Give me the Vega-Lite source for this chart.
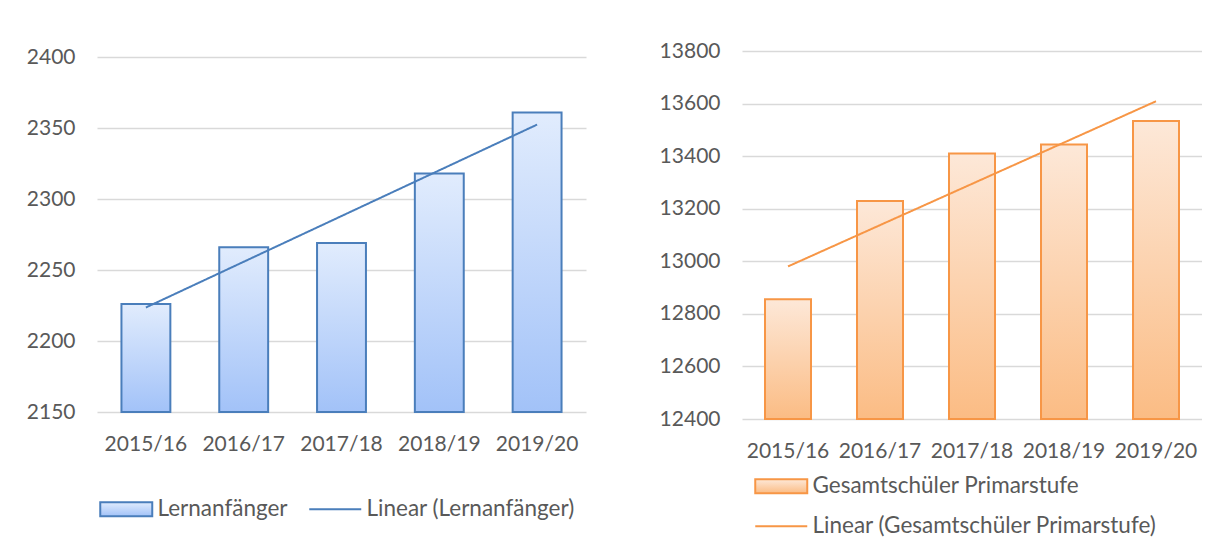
{
  "$schema": "https://vega.github.io/schema/vega-lite/v6.json",
  "background": "white",
  "padding": {"left": 26, "top": 40, "right": 0, "bottom": 0},
  "spacing": 73,
  "datasets": {
    "left": [
      {"year": "2015/16", "i": 1, "value": 2226},
      {"year": "2016/17", "i": 2, "value": 2266},
      {"year": "2017/18", "i": 3, "value": 2269},
      {"year": "2018/19", "i": 4, "value": 2318},
      {"year": "2019/20", "i": 5, "value": 2361}
    ],
    "right": [
      {"year": "2015/16", "i": 1, "value": 12856},
      {"year": "2016/17", "i": 2, "value": 13229},
      {"year": "2017/18", "i": 3, "value": 13410},
      {"year": "2018/19", "i": 4, "value": 13444},
      {"year": "2019/20", "i": 5, "value": 13534}
    ]
  },
  "resolve": {"scale": {"stroke": "independent", "strokeDash": "independent"}},
  "hconcat": [
    {
      "width": 489,
      "height": 367,
      "data": {"name": "left"},
      "encoding": {
        "x": {"field": "year", "type": "nominal", "scale": {"paddingInner": 0.5, "paddingOuter": 0.25}, "axis": {"title": null, "labelPadding": 15}}
      },
      "layer": [
        {
          "mark": {"type": "bar", "strokeWidth": 2, "fill": {"gradient": "linear", "x1": 0, "y1": 0, "x2": 0, "y2": 1, "stops": [{"offset": 0, "color": "#e1ecfd"}, {"offset": 1, "color": "#a2c2f8"}]}},
          "encoding": {
            "y": {"field": "value", "type": "quantitative", "scale": {"domain": [2150, 2400], "nice": false, "zero": false, "padding": 6}, "axis": {"title": null, "format": "d", "values": [2150, 2200, 2250, 2300, 2350, 2400]}},
            "y2": {"datum": 2150},
            "stroke": {
              "datum": "Lernanfänger", "type": "nominal",
              "scale": {"domain": ["Lernanfänger"], "range": ["#4a7ebb"]},
              "legend": {
                "title": null, "orient": "none", "legendX": 18, "legendY": 447, "direction": "horizontal",
                "symbolType": "M-3.714,-1H3.714V1H-3.714Z", "symbolSize": 196, "symbolStrokeWidth": 2, "labelOffset": 20, "padding": 0, "labelLimit": 600,
                "encode": {"symbols": {"update": {
                  "fill": {"value": {"gradient": "linear", "x1": 0, "y1": 0, "x2": 0, "y2": 1, "stops": [{"offset": 0, "color": "#e1ecfd"}, {"offset": 1, "color": "#a2c2f8"}]}},
                  "opacity": {"value": 1}
                }}}
              }
            }
          }
        },
        {
          "transform": [
            {"regression": "value", "on": "i"},
            {"lookup": "i", "from": {"data": {"name": "left"}, "key": "i", "fields": ["year"]}}
          ],
          "mark": {"type": "line", "strokeWidth": 2, "stroke": "#4a7ebb"},
          "encoding": {
            "y": {"field": "value", "type": "quantitative"},
            "strokeDash": {
              "datum": "Linear (Lernanfänger)", "type": "nominal",
              "scale": {"domain": ["Linear (Lernanfänger)"], "range": [[1, 0]]},
              "legend": {
                "title": null, "orient": "none", "legendX": 227, "legendY": 447, "direction": "horizontal",
                "symbolType": "M-3.714,0H3.714", "symbolSize": 196, "symbolStrokeWidth": 2, "symbolStrokeColor": "#4a7ebb", "labelOffset": 20, "padding": 0, "labelLimit": 600
              }
            }
          }
        }
      ]
    },
    {
      "width": 460,
      "height": 368,
      "data": {"name": "right"},
      "encoding": {
        "x": {"field": "year", "type": "nominal", "scale": {"paddingInner": 0.5, "paddingOuter": 0.25}, "axis": {"title": null, "labelPadding": 21}}
      },
      "layer": [
        {
          "mark": {"type": "bar", "strokeWidth": 2, "fill": {"gradient": "linear", "x1": 0, "y1": 0, "x2": 0, "y2": 1, "stops": [{"offset": 0, "color": "#fde8d8"}, {"offset": 1, "color": "#fbbc84"}]}},
          "encoding": {
            "y": {"field": "value", "type": "quantitative", "scale": {"domain": [12400, 13800], "nice": false, "zero": false}, "axis": {"title": null, "format": "d", "values": [12400, 12600, 12800, 13000, 13200, 13400, 13600, 13800]}},
            "y2": {"datum": 12400},
            "stroke": {
              "datum": "Gesamtschüler Primarstufe", "type": "nominal",
              "scale": {"domain": ["Gesamtschüler Primarstufe"], "range": ["#f79646"]},
              "legend": {
                "title": null, "orient": "none", "legendX": 28, "legendY": 424, "direction": "vertical",
                "symbolType": "M-3.714,-1H3.714V1H-3.714Z", "symbolSize": 196, "symbolStrokeWidth": 2, "labelOffset": 20, "padding": 0, "labelLimit": 600,
                "encode": {"symbols": {"update": {
                  "fill": {"value": {"gradient": "linear", "x1": 0, "y1": 0, "x2": 0, "y2": 1, "stops": [{"offset": 0, "color": "#fde8d8"}, {"offset": 1, "color": "#fbbc84"}]}},
                  "opacity": {"value": 1}
                }}}
              }
            }
          }
        },
        {
          "transform": [
            {"regression": "value", "on": "i"},
            {"lookup": "i", "from": {"data": {"name": "right"}, "key": "i", "fields": ["year"]}}
          ],
          "mark": {"type": "line", "strokeWidth": 2, "stroke": "#f79646"},
          "encoding": {
            "y": {"field": "value", "type": "quantitative"},
            "strokeDash": {
              "datum": "Linear (Gesamtschüler Primarstufe)", "type": "nominal",
              "scale": {"domain": ["Linear (Gesamtschüler Primarstufe)"], "range": [[1, 0]]},
              "legend": {
                "title": null, "orient": "none", "legendX": 28, "legendY": 464, "direction": "vertical",
                "symbolType": "M-3.714,0H3.714", "symbolSize": 196, "symbolStrokeWidth": 2, "symbolStrokeColor": "#f79646", "labelOffset": 20, "padding": 0, "labelLimit": 600
              }
            }
          }
        }
      ]
    }
  ],
  "config": {
    "font": "Lato",
    "view": {"stroke": null},
    "axis": {"labelFont": "Lato", "labelFontSize": 21, "labelColor": "#595959", "domain": false, "ticks": false, "gridColor": "#d9d9d9", "gridWidth": 1.5},
    "axisX": {"grid": false, "labelAngle": 0},
    "axisY": {"grid": true, "labelPadding": 22},
    "legend": {"labelFont": "Lato", "labelFontSize": 22.5, "labelColor": "#595959"}
  }
}
